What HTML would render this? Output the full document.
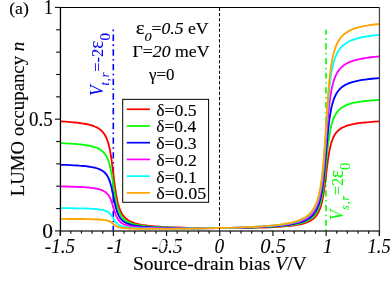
<!DOCTYPE html>
<html><head><meta charset="utf-8"><title>LUMO occupancy</title>
<style>
html,body{margin:0;padding:0;background:#fff;}
body{width:392px;height:288px;overflow:hidden;font-family:"Liberation Serif",serif;}
svg{display:block;}
text{font-family:"Liberation Serif",serif;}
</style></head><body>
<svg width="392" height="288" viewBox="0 0 392 288">
<rect x="0" y="0" width="392" height="288" fill="#ffffff"/>

<defs><clipPath id="pc"><rect x="60.20" y="7.45" width="319.10" height="223.45"/></clipPath></defs>
<line x1="326.0" y1="29.75" x2="326.0" y2="230.90" stroke="#00ff00" stroke-width="1.6" stroke-dasharray="6.2,3.5,1.5,3.5" stroke-dashoffset="1.2"/>
<line x1="113.3" y1="29.6" x2="113.3" y2="230.90" stroke="#0000ff" stroke-width="1.6" stroke-dasharray="6.4,3.35,1.6,3.35" stroke-dashoffset="9.75"/>
<g clip-path="url(#pc)" fill="none" stroke-width="1.85" stroke-linejoin="round">
<path d="M60.2 121.4L65.5 121.7L70.8 122.1L73.0 122.3L75.1 122.5L77.2 122.7L79.3 123.0L81.5 123.3L83.6 123.6L85.7 124.0L87.9 124.4L90.0 124.9L92.1 125.5L93.0 125.8L93.8 126.1L94.7 126.5L95.5 126.8L96.4 127.2L97.2 127.7L98.1 128.1L98.9 128.7L99.8 129.3L100.6 129.9L101.5 130.7L102.3 131.6L103.2 132.5L104.0 133.7L104.9 135.0L105.7 136.5L106.6 138.4L107.4 140.5L107.7 141.5L108.1 142.5L108.4 143.6L108.7 144.7L109.0 146.0L109.3 147.3L109.7 148.8L110.0 150.3L110.3 152.0L110.6 153.8L110.9 155.8L111.3 157.8L111.6 160.0L111.9 162.4L112.2 164.8L112.5 167.3L112.9 169.9L113.2 172.6L113.5 175.2L113.8 177.9L114.1 180.5L114.4 183.0L114.8 185.5L115.1 187.9L115.4 190.1L115.7 192.2L116.0 194.2L116.4 196.0L116.7 197.8L117.0 199.4L117.3 200.9L117.6 202.2L118.0 203.5L118.3 204.7L118.6 205.8L118.9 206.9L119.2 207.8L119.6 208.7L119.9 209.5L120.7 211.5L121.6 213.1L122.4 214.5L123.3 215.7L124.1 216.7L125.0 217.6L125.8 218.4L126.7 219.1L127.5 219.7L128.4 220.3L129.2 220.8L130.1 221.3L130.9 221.7L131.8 222.0L132.6 222.4L133.5 222.7L134.3 223.0L135.2 223.3L137.3 223.8L139.4 224.3L141.6 224.8L143.7 225.1L145.8 225.4L148.0 225.7L150.1 225.9L152.2 226.1L154.3 226.3L156.5 226.5L161.8 226.9L167.1 227.1L172.4 227.4L177.7 227.5L183.1 227.7L188.4 227.8L193.7 227.9L199.0 227.9L204.3 228.0L209.6 228.0L215.0 228.1L220.3 228.1L225.6 228.0L230.9 228.0L236.2 228.0L241.6 227.9L246.9 227.9L252.2 227.8L257.5 227.6L262.8 227.5L268.1 227.3L273.5 227.1L278.8 226.8L284.1 226.4L286.2 226.2L288.4 226.0L290.5 225.8L292.6 225.6L294.7 225.3L296.9 224.9L299.0 224.6L301.1 224.1L303.2 223.6L305.4 222.9L306.2 222.6L307.1 222.3L307.9 222.0L308.8 221.6L309.6 221.1L310.5 220.7L311.3 220.2L312.2 219.6L313.0 219.0L313.9 218.2L314.7 217.4L315.6 216.5L316.4 215.4L317.3 214.2L318.1 212.7L319.0 211.0L319.8 209.0L320.2 208.1L320.5 207.2L320.8 206.2L321.1 205.1L321.4 203.9L321.8 202.7L322.1 201.3L322.4 199.9L322.7 198.3L323.0 196.6L323.4 194.8L323.7 192.9L324.0 190.8L324.3 188.6L324.6 186.3L324.9 183.9L325.3 181.3L325.6 178.7L325.9 176.1L326.2 173.4L326.5 170.8L326.9 168.2L327.2 165.6L327.5 163.2L327.8 160.8L328.1 158.6L328.5 156.5L328.8 154.5L329.1 152.6L329.4 150.9L329.7 149.3L330.1 147.8L330.4 146.4L330.7 145.1L331.0 143.9L331.3 142.8L331.6 141.8L332.0 140.8L332.3 140.0L332.6 139.1L333.5 137.2L334.3 135.5L335.2 134.1L336.0 132.9L336.9 131.9L337.7 131.0L338.6 130.2L339.4 129.5L340.3 128.9L341.1 128.3L342.0 127.8L342.8 127.4L343.7 127.0L344.5 126.6L345.4 126.3L346.2 125.9L347.1 125.7L347.9 125.4L350.0 124.8L352.2 124.3L354.3 123.9L356.4 123.5L358.6 123.2L360.7 122.9L362.8 122.7L364.9 122.5L367.1 122.3L369.2 122.1L374.5 121.7L379.3 121.4" stroke="#ff0000"/>
<path d="M60.2 143.1L65.5 143.3L70.8 143.6L73.0 143.8L75.1 143.9L77.2 144.1L79.3 144.3L81.5 144.5L83.6 144.8L85.7 145.1L87.9 145.5L90.0 145.9L92.1 146.4L93.0 146.6L93.8 146.8L94.7 147.1L95.5 147.4L96.4 147.7L97.2 148.0L98.1 148.4L98.9 148.9L99.8 149.3L100.6 149.9L101.5 150.5L102.3 151.2L103.2 151.9L104.0 152.8L104.9 153.9L105.7 155.1L106.6 156.6L107.4 158.3L107.7 159.1L108.1 159.9L108.4 160.7L108.7 161.7L109.0 162.7L109.3 163.8L109.7 164.9L110.0 166.2L110.3 167.5L110.6 169.0L110.9 170.5L111.3 172.2L111.6 173.9L111.9 175.8L112.2 177.7L112.5 179.7L112.9 181.8L113.2 183.9L113.5 186.1L113.8 188.2L114.1 190.3L114.4 192.3L114.8 194.3L115.1 196.2L115.4 198.0L115.7 199.7L116.0 201.2L116.4 202.7L116.7 204.1L117.0 205.4L117.3 206.6L117.6 207.7L118.0 208.7L118.3 209.7L118.6 210.5L118.9 211.4L119.2 212.1L119.6 212.8L119.9 213.5L120.7 215.1L121.6 216.4L122.4 217.5L123.3 218.4L124.1 219.3L125.0 220.0L125.8 220.6L126.7 221.2L127.5 221.7L128.4 222.1L129.2 222.5L130.1 222.9L130.9 223.2L131.8 223.5L132.6 223.8L133.5 224.0L134.3 224.3L135.2 224.5L137.3 224.9L139.4 225.3L141.6 225.7L143.7 225.9L145.8 226.2L148.0 226.4L150.1 226.6L152.2 226.8L154.3 226.9L156.5 227.0L161.8 227.3L167.1 227.5L172.4 227.7L177.7 227.8L183.1 227.9L188.4 228.0L193.7 228.0L199.0 228.1L204.3 228.1L209.6 228.1L215.0 228.1L220.3 228.1L225.6 228.0L230.9 228.0L236.2 227.9L241.6 227.8L246.9 227.7L252.2 227.6L257.5 227.4L262.8 227.2L268.1 227.0L273.5 226.7L278.8 226.3L284.1 225.9L286.2 225.7L288.4 225.4L290.5 225.1L292.6 224.8L294.7 224.5L296.9 224.1L299.0 223.6L301.1 223.1L303.2 222.4L305.4 221.6L306.2 221.3L307.1 220.9L307.9 220.5L308.8 220.0L309.6 219.5L310.5 218.9L311.3 218.3L312.2 217.6L313.0 216.9L313.9 216.0L314.7 215.0L315.6 213.9L316.4 212.6L317.3 211.1L318.1 209.4L319.0 207.3L319.8 204.9L320.2 203.8L320.5 202.7L320.8 201.5L321.1 200.2L321.4 198.8L321.8 197.3L322.1 195.7L322.4 194.0L322.7 192.1L323.0 190.1L323.4 187.9L323.7 185.6L324.0 183.1L324.3 180.4L324.6 177.7L324.9 174.7L325.3 171.7L325.6 168.6L325.9 165.4L326.2 162.2L326.5 159.0L326.9 155.9L327.2 152.8L327.5 149.9L327.8 147.1L328.1 144.4L328.5 141.8L328.8 139.5L329.1 137.2L329.4 135.2L329.7 133.2L330.1 131.5L330.4 129.8L330.7 128.2L331.0 126.8L331.3 125.5L331.6 124.3L332.0 123.1L332.3 122.0L332.6 121.0L333.5 118.7L334.3 116.7L335.2 115.1L336.0 113.6L336.9 112.4L337.7 111.3L338.6 110.4L339.4 109.5L340.3 108.8L341.1 108.1L342.0 107.5L342.8 106.9L343.7 106.5L344.5 106.0L345.4 105.6L346.2 105.2L347.1 104.9L347.9 104.5L350.0 103.8L352.2 103.2L354.3 102.7L356.4 102.3L358.6 101.9L360.7 101.6L362.8 101.3L364.9 101.0L367.1 100.8L369.2 100.6L374.5 100.1L379.3 99.8" stroke="#00ff00"/>
<path d="M60.2 164.8L65.5 164.9L70.8 165.2L73.0 165.3L75.1 165.4L77.2 165.5L79.3 165.7L81.5 165.8L83.6 166.0L85.7 166.2L87.9 166.5L90.0 166.8L92.1 167.2L93.0 167.3L93.8 167.5L94.7 167.7L95.5 167.9L96.4 168.2L97.2 168.4L98.1 168.7L98.9 169.0L99.8 169.4L100.6 169.8L101.5 170.2L102.3 170.8L103.2 171.3L104.0 172.0L104.9 172.8L105.7 173.7L106.6 174.8L107.4 176.1L107.7 176.7L108.1 177.3L108.4 177.9L108.7 178.6L109.0 179.4L109.3 180.2L109.7 181.1L110.0 182.0L110.3 183.0L110.6 184.1L110.9 185.3L111.3 186.5L111.6 187.8L111.9 189.2L112.2 190.7L112.5 192.2L112.9 193.7L113.2 195.3L113.5 196.9L113.8 198.5L114.1 200.1L114.4 201.6L114.8 203.1L115.1 204.5L115.4 205.8L115.7 207.1L116.0 208.3L116.4 209.4L116.7 210.4L117.0 211.4L117.3 212.3L117.6 213.1L118.0 213.9L118.3 214.6L118.6 215.3L118.9 215.9L119.2 216.5L119.6 217.0L119.9 217.5L120.7 218.7L121.6 219.6L122.4 220.5L123.3 221.2L124.1 221.8L125.0 222.3L125.8 222.8L126.7 223.2L127.5 223.6L128.4 223.9L129.2 224.2L130.1 224.5L130.9 224.7L131.8 225.0L132.6 225.2L133.5 225.4L134.3 225.5L135.2 225.7L137.3 226.0L139.4 226.3L141.6 226.6L143.7 226.8L145.8 226.9L148.0 227.1L150.1 227.2L152.2 227.4L154.3 227.5L156.5 227.6L161.8 227.7L167.1 227.9L172.4 228.0L177.7 228.1L183.1 228.1L188.4 228.2L193.7 228.2L199.0 228.2L204.3 228.2L209.6 228.1L215.0 228.1L220.3 228.1L225.6 228.0L230.9 227.9L236.2 227.8L241.6 227.7L246.9 227.5L252.2 227.4L257.5 227.2L262.8 227.0L268.1 226.7L273.5 226.3L278.8 225.9L284.1 225.3L286.2 225.1L288.4 224.8L290.5 224.5L292.6 224.1L294.7 223.7L296.9 223.2L299.0 222.7L301.1 222.0L303.2 221.3L305.4 220.4L306.2 219.9L307.1 219.5L307.9 219.0L308.8 218.5L309.6 217.9L310.5 217.2L311.3 216.5L312.2 215.7L313.0 214.8L313.9 213.8L314.7 212.6L315.6 211.3L316.4 209.8L317.3 208.1L318.1 206.1L319.0 203.7L319.8 200.8L320.2 199.6L320.5 198.3L320.8 196.9L321.1 195.4L321.4 193.7L321.8 192.0L322.1 190.1L322.4 188.0L322.7 185.9L323.0 183.5L323.4 181.0L323.7 178.2L324.0 175.3L324.3 172.3L324.6 169.0L324.9 165.6L325.3 162.1L325.6 158.5L325.9 154.8L326.2 151.0L326.5 147.3L326.9 143.6L327.2 140.1L327.5 136.6L327.8 133.3L328.1 130.2L328.5 127.2L328.8 124.5L329.1 121.9L329.4 119.4L329.7 117.2L330.1 115.1L330.4 113.2L330.7 111.4L331.0 109.7L331.3 108.2L331.6 106.7L332.0 105.4L332.3 104.1L332.6 103.0L333.5 100.2L334.3 97.9L335.2 96.0L336.0 94.3L336.9 92.9L337.7 91.6L338.6 90.5L339.4 89.5L340.3 88.6L341.1 87.8L342.0 87.1L342.8 86.5L343.7 85.9L344.5 85.4L345.4 84.9L346.2 84.5L347.1 84.1L347.9 83.7L350.0 82.9L352.2 82.2L354.3 81.6L356.4 81.1L358.6 80.6L360.7 80.2L362.8 79.9L364.9 79.6L367.1 79.3L369.2 79.0L374.5 78.5L379.3 78.1" stroke="#0000ff"/>
<path d="M60.2 186.4L65.5 186.5L70.8 186.7L73.0 186.7L75.1 186.8L77.2 186.9L79.3 187.0L81.5 187.1L83.6 187.2L85.7 187.4L87.9 187.5L90.0 187.7L92.1 188.0L93.0 188.1L93.8 188.2L94.7 188.3L95.5 188.5L96.4 188.6L97.2 188.8L98.1 189.0L98.9 189.2L99.8 189.4L100.6 189.7L101.5 190.0L102.3 190.4L103.2 190.7L104.0 191.2L104.9 191.7L105.7 192.3L106.6 193.1L107.4 193.9L107.7 194.3L108.1 194.7L108.4 195.1L108.7 195.6L109.0 196.1L109.3 196.6L109.7 197.2L110.0 197.8L110.3 198.5L110.6 199.2L110.9 200.0L111.3 200.8L111.6 201.7L111.9 202.6L112.2 203.6L112.5 204.6L112.9 205.7L113.2 206.7L113.5 207.8L113.8 208.8L114.1 209.9L114.4 210.9L114.8 211.9L115.1 212.8L115.4 213.7L115.7 214.6L116.0 215.3L116.4 216.1L116.7 216.8L117.0 217.4L117.3 218.0L117.6 218.6L118.0 219.1L118.3 219.6L118.6 220.0L118.9 220.4L119.2 220.8L119.6 221.1L119.9 221.5L120.7 222.2L121.6 222.9L122.4 223.5L123.3 223.9L124.1 224.3L125.0 224.7L125.8 225.0L126.7 225.3L127.5 225.5L128.4 225.7L129.2 225.9L130.1 226.1L130.9 226.3L131.8 226.4L132.6 226.6L133.5 226.7L134.3 226.8L135.2 226.9L137.3 227.1L139.4 227.3L141.6 227.5L143.7 227.6L145.8 227.7L148.0 227.8L150.1 227.9L152.2 228.0L154.3 228.0L156.5 228.1L161.8 228.2L167.1 228.3L172.4 228.3L177.7 228.3L183.1 228.3L188.4 228.3L193.7 228.3L199.0 228.3L204.3 228.2L209.6 228.2L215.0 228.1L220.3 228.0L225.6 228.0L230.9 227.8L236.2 227.7L241.6 227.6L246.9 227.4L252.2 227.2L257.5 227.0L262.8 226.7L268.1 226.3L273.5 225.9L278.8 225.4L284.1 224.8L286.2 224.5L288.4 224.2L290.5 223.8L292.6 223.4L294.7 222.9L296.9 222.4L299.0 221.7L301.1 221.0L303.2 220.1L305.4 219.1L306.2 218.6L307.1 218.1L307.9 217.5L308.8 216.9L309.6 216.2L310.5 215.5L311.3 214.7L312.2 213.7L313.0 212.7L313.9 211.6L314.7 210.2L315.6 208.8L316.4 207.0L317.3 205.0L318.1 202.7L319.0 200.0L319.8 196.7L320.2 195.3L320.5 193.8L320.8 192.2L321.1 190.5L321.4 188.6L321.8 186.6L322.1 184.5L322.4 182.1L322.7 179.6L323.0 176.9L323.4 174.0L323.7 170.9L324.0 167.6L324.3 164.1L324.6 160.4L324.9 156.5L325.3 152.5L325.6 148.3L325.9 144.1L326.2 139.8L326.5 135.6L326.9 131.4L327.2 127.3L327.5 123.4L327.8 119.6L328.1 116.0L328.5 112.6L328.8 109.5L329.1 106.5L329.4 103.7L329.7 101.2L330.1 98.8L330.4 96.6L330.7 94.5L331.0 92.6L331.3 90.8L331.6 89.2L332.0 87.6L332.3 86.2L332.6 84.9L333.5 81.8L334.3 79.1L335.2 76.9L336.0 75.0L336.9 73.3L337.7 71.9L338.6 70.6L339.4 69.5L340.3 68.5L341.1 67.6L342.0 66.8L342.8 66.1L343.7 65.4L344.5 64.8L345.4 64.3L346.2 63.7L347.1 63.3L347.9 62.8L350.0 61.9L352.2 61.1L354.3 60.4L356.4 59.8L358.6 59.3L360.7 58.9L362.8 58.5L364.9 58.1L367.1 57.8L369.2 57.5L374.5 56.9L379.3 56.5" stroke="#ff00ff"/>
<path d="M60.2 208.1L65.5 208.1L70.8 208.2L73.0 208.2L75.1 208.3L77.2 208.3L79.3 208.3L81.5 208.4L83.6 208.4L85.7 208.5L87.9 208.6L90.0 208.7L92.1 208.8L93.0 208.8L93.8 208.9L94.7 209.0L95.5 209.0L96.4 209.1L97.2 209.2L98.1 209.3L98.9 209.4L99.8 209.5L100.6 209.6L101.5 209.8L102.3 209.9L103.2 210.1L104.0 210.4L104.9 210.6L105.7 210.9L106.6 211.3L107.4 211.7L107.7 211.9L108.1 212.1L108.4 212.3L108.7 212.6L109.0 212.8L109.3 213.1L109.7 213.4L110.0 213.7L110.3 214.0L110.6 214.4L110.9 214.8L111.3 215.2L111.6 215.6L111.9 216.1L112.2 216.5L112.5 217.0L112.9 217.6L113.2 218.1L113.5 218.6L113.8 219.2L114.1 219.7L114.4 220.2L114.8 220.7L115.1 221.1L115.4 221.6L115.7 222.0L116.0 222.4L116.4 222.8L116.7 223.1L117.0 223.4L117.3 223.7L117.6 224.0L118.0 224.3L118.3 224.5L118.6 224.7L118.9 224.9L119.2 225.1L119.6 225.3L119.9 225.5L120.7 225.8L121.6 226.2L122.4 226.4L123.3 226.7L124.1 226.9L125.0 227.0L125.8 227.2L126.7 227.3L127.5 227.5L128.4 227.6L129.2 227.7L130.1 227.7L130.9 227.8L131.8 227.9L132.6 227.9L133.5 228.0L134.3 228.1L135.2 228.1L137.3 228.2L139.4 228.3L141.6 228.4L143.7 228.4L145.8 228.5L148.0 228.5L150.1 228.5L152.2 228.6L154.3 228.6L156.5 228.6L161.8 228.6L167.1 228.6L172.4 228.6L177.7 228.6L183.1 228.6L188.4 228.5L193.7 228.5L199.0 228.4L204.3 228.3L209.6 228.2L215.0 228.2L220.3 228.0L225.6 227.9L230.9 227.8L236.2 227.6L241.6 227.4L246.9 227.2L252.2 227.0L257.5 226.7L262.8 226.4L268.1 226.0L273.5 225.5L278.8 225.0L284.1 224.3L286.2 223.9L288.4 223.5L290.5 223.1L292.6 222.6L294.7 222.1L296.9 221.5L299.0 220.8L301.1 219.9L303.2 219.0L305.4 217.8L306.2 217.3L307.1 216.7L307.9 216.0L308.8 215.3L309.6 214.6L310.5 213.7L311.3 212.8L312.2 211.8L313.0 210.6L313.9 209.3L314.7 207.8L315.6 206.2L316.4 204.2L317.3 202.0L318.1 199.4L319.0 196.3L319.8 192.6L320.2 191.0L320.5 189.4L320.8 187.6L321.1 185.6L321.4 183.5L321.8 181.3L322.1 178.8L322.4 176.2L322.7 173.4L323.0 170.4L323.4 167.1L323.7 163.6L324.0 159.9L324.3 155.9L324.6 151.8L324.9 147.4L325.3 142.8L325.6 138.2L325.9 133.4L326.2 128.6L326.5 123.8L326.9 119.1L327.2 114.5L327.5 110.1L327.8 105.8L328.1 101.8L328.5 98.0L328.8 94.4L329.1 91.1L329.4 88.0L329.7 85.1L330.1 82.4L330.4 79.9L330.7 77.6L331.0 75.5L331.3 73.5L331.6 71.6L332.0 69.9L332.3 68.3L332.6 66.8L333.5 63.3L334.3 60.3L335.2 57.8L336.0 55.7L336.9 53.8L337.7 52.2L338.6 50.7L339.4 49.5L340.3 48.4L341.1 47.4L342.0 46.5L342.8 45.6L343.7 44.9L344.5 44.2L345.4 43.6L346.2 43.0L347.1 42.5L347.9 42.0L350.0 40.9L352.2 40.0L354.3 39.3L356.4 38.6L358.6 38.0L360.7 37.5L362.8 37.1L364.9 36.7L367.1 36.3L369.2 36.0L374.5 35.3L379.3 34.8" stroke="#00ffff"/>
<path d="M60.2 218.9L65.5 218.9L70.8 219.0L73.0 219.0L75.1 219.0L77.2 219.0L79.3 219.0L81.5 219.0L83.6 219.0L85.7 219.1L87.9 219.1L90.0 219.1L92.1 219.2L93.0 219.2L93.8 219.3L94.7 219.3L95.5 219.3L96.4 219.3L97.2 219.4L98.1 219.4L98.9 219.5L99.8 219.5L100.6 219.6L101.5 219.7L102.3 219.7L103.2 219.8L104.0 220.0L104.9 220.1L105.7 220.2L106.6 220.4L107.4 220.6L107.7 220.7L108.1 220.8L108.4 220.9L108.7 221.0L109.0 221.2L109.3 221.3L109.7 221.4L110.0 221.6L110.3 221.8L110.6 221.9L110.9 222.1L111.3 222.3L111.6 222.5L111.9 222.8L112.2 223.0L112.5 223.3L112.9 223.5L113.2 223.8L113.5 224.1L113.8 224.3L114.1 224.6L114.4 224.8L114.8 225.1L115.1 225.3L115.4 225.5L115.7 225.7L116.0 225.9L116.4 226.1L116.7 226.3L117.0 226.4L117.3 226.6L117.6 226.7L118.0 226.9L118.3 227.0L118.6 227.1L118.9 227.2L119.2 227.3L119.6 227.4L119.9 227.4L120.7 227.6L121.6 227.8L122.4 227.9L123.3 228.0L124.1 228.1L125.0 228.2L125.8 228.3L126.7 228.4L127.5 228.4L128.4 228.5L129.2 228.5L130.1 228.5L130.9 228.6L131.8 228.6L132.6 228.6L133.5 228.7L134.3 228.7L135.2 228.7L137.3 228.8L139.4 228.8L141.6 228.8L143.7 228.8L145.8 228.8L148.0 228.9L150.1 228.9L152.2 228.9L154.3 228.9L156.5 228.9L161.8 228.8L167.1 228.8L172.4 228.8L177.7 228.7L183.1 228.7L188.4 228.6L193.7 228.5L199.0 228.5L204.3 228.4L209.6 228.3L215.0 228.2L220.3 228.0L225.6 227.9L230.9 227.8L236.2 227.6L241.6 227.4L246.9 227.2L252.2 226.9L257.5 226.6L262.8 226.3L268.1 225.9L273.5 225.4L278.8 224.8L284.1 224.0L286.2 223.6L288.4 223.2L290.5 222.8L292.6 222.3L294.7 221.7L296.9 221.1L299.0 220.3L301.1 219.4L303.2 218.4L305.4 217.2L306.2 216.6L307.1 216.0L307.9 215.3L308.8 214.6L309.6 213.8L310.5 212.9L311.3 211.9L312.2 210.8L313.0 209.6L313.9 208.2L314.7 206.7L315.6 204.9L316.4 202.8L317.3 200.5L318.1 197.7L319.0 194.5L319.8 190.6L320.2 188.9L320.5 187.1L320.8 185.2L321.1 183.2L321.4 181.0L321.8 178.6L322.1 176.0L322.4 173.3L322.7 170.3L323.0 167.1L323.4 163.6L323.7 159.9L324.0 156.0L324.3 151.8L324.6 147.4L324.9 142.8L325.3 138.0L325.6 133.1L325.9 128.1L326.2 123.0L326.5 118.0L326.9 113.0L327.2 108.1L327.5 103.5L327.8 99.0L328.1 94.7L328.5 90.7L328.8 86.9L329.1 83.4L329.4 80.1L329.7 77.1L330.1 74.3L330.4 71.6L330.7 69.2L331.0 66.9L331.3 64.8L331.6 62.9L332.0 61.0L332.3 59.3L332.6 57.8L333.5 54.1L334.3 50.9L335.2 48.3L336.0 46.0L336.9 44.0L337.7 42.3L338.6 40.8L339.4 39.5L340.3 38.3L341.1 37.2L342.0 36.3L342.8 35.4L343.7 34.6L344.5 33.9L345.4 33.3L346.2 32.7L347.1 32.1L347.9 31.6L350.0 30.4L352.2 29.5L354.3 28.7L356.4 28.0L358.6 27.4L360.7 26.8L362.8 26.4L364.9 25.9L367.1 25.6L369.2 25.2L374.5 24.5L379.3 24.0" stroke="#ffa500"/>
</g>
<line x1="219.5" y1="7.7" x2="219.5" y2="230.90" stroke="#000" stroke-width="1.0" stroke-dasharray="3.2,2.05"/>
<rect x="122.70" y="99.35" width="85.90" height="102.95" fill="#fff" stroke="#000" stroke-width="1.0"/>
<line x1="126.75" y1="109.25" x2="150" y2="109.25" stroke="#ff0000" stroke-width="1.7"/>
<line x1="126.75" y1="125.97" x2="150" y2="125.97" stroke="#00ff00" stroke-width="1.7"/>
<line x1="126.75" y1="142.69" x2="150" y2="142.69" stroke="#0000ff" stroke-width="1.7"/>
<line x1="126.75" y1="159.41" x2="150" y2="159.41" stroke="#ff00ff" stroke-width="1.7"/>
<line x1="126.75" y1="176.13" x2="150" y2="176.13" stroke="#00ffff" stroke-width="1.7"/>
<line x1="126.75" y1="192.85" x2="150" y2="192.85" stroke="#ffa500" stroke-width="1.7"/>
<line x1="60.20" y1="7.45" x2="379.70" y2="7.45" stroke="#000" stroke-width="1.1"/>
<line x1="379.45" y1="6.95" x2="379.45" y2="235.70" stroke="#444" stroke-width="1.25"/>
<line x1="60.20" y1="230.95" x2="380.10" y2="230.95" stroke="#3a3a3a" stroke-width="1.35"/>
<line x1="60.45" y1="6.95" x2="60.45" y2="235.70" stroke="#000" stroke-width="1.3"/>
<g stroke="#111" stroke-width="1.15">
<line x1="60.20" y1="230.90" x2="60.20" y2="235.90"/>
<line x1="70.84" y1="230.90" x2="70.84" y2="233.70"/>
<line x1="81.47" y1="230.90" x2="81.47" y2="233.70"/>
<line x1="92.11" y1="230.90" x2="92.11" y2="233.70"/>
<line x1="102.75" y1="230.90" x2="102.75" y2="233.70"/>
<line x1="113.38" y1="230.90" x2="113.38" y2="235.90"/>
<line x1="124.02" y1="230.90" x2="124.02" y2="233.70"/>
<line x1="134.66" y1="230.90" x2="134.66" y2="233.70"/>
<line x1="145.29" y1="230.90" x2="145.29" y2="233.70"/>
<line x1="155.93" y1="230.90" x2="155.93" y2="233.70"/>
<line x1="166.57" y1="230.90" x2="166.57" y2="235.90"/>
<line x1="177.20" y1="230.90" x2="177.20" y2="233.70"/>
<line x1="187.84" y1="230.90" x2="187.84" y2="233.70"/>
<line x1="198.48" y1="230.90" x2="198.48" y2="233.70"/>
<line x1="209.11" y1="230.90" x2="209.11" y2="233.70"/>
<line x1="219.75" y1="230.90" x2="219.75" y2="235.90"/>
<line x1="230.39" y1="230.90" x2="230.39" y2="233.70"/>
<line x1="241.02" y1="230.90" x2="241.02" y2="233.70"/>
<line x1="251.66" y1="230.90" x2="251.66" y2="233.70"/>
<line x1="262.30" y1="230.90" x2="262.30" y2="233.70"/>
<line x1="272.93" y1="230.90" x2="272.93" y2="235.90"/>
<line x1="283.57" y1="230.90" x2="283.57" y2="233.70"/>
<line x1="294.21" y1="230.90" x2="294.21" y2="233.70"/>
<line x1="304.84" y1="230.90" x2="304.84" y2="233.70"/>
<line x1="315.48" y1="230.90" x2="315.48" y2="233.70"/>
<line x1="326.12" y1="230.90" x2="326.12" y2="235.90"/>
<line x1="336.75" y1="230.90" x2="336.75" y2="233.70"/>
<line x1="347.39" y1="230.90" x2="347.39" y2="233.70"/>
<line x1="358.03" y1="230.90" x2="358.03" y2="233.70"/>
<line x1="368.66" y1="230.90" x2="368.66" y2="233.70"/>
<line x1="379.30" y1="230.90" x2="379.30" y2="235.90"/>
<line x1="60.45" y1="230.90" x2="54.95" y2="230.90"/>
<line x1="60.45" y1="208.56" x2="56.15" y2="208.56"/>
<line x1="60.45" y1="186.21" x2="56.15" y2="186.21"/>
<line x1="60.45" y1="163.87" x2="56.15" y2="163.87"/>
<line x1="60.45" y1="141.52" x2="56.15" y2="141.52"/>
<line x1="60.45" y1="119.17" x2="54.95" y2="119.17"/>
<line x1="60.45" y1="96.83" x2="56.15" y2="96.83"/>
<line x1="60.45" y1="74.48" x2="56.15" y2="74.48"/>
<line x1="60.45" y1="52.14" x2="56.15" y2="52.14"/>
<line x1="60.45" y1="29.79" x2="56.15" y2="29.79"/>
<line x1="60.45" y1="7.45" x2="54.95" y2="7.45"/>
</g>
<g opacity="0.999">
<text id="a" transform="translate(9.23,13.70) scale(1.0226,1)" font-size="17.30" fill="#000" stroke="#000" stroke-width="0.15">(a)</text>
<text id="y1" transform="translate(44.11,14.30) scale(0.8680,1)" font-size="20.50" fill="#000" stroke="#000" stroke-width="0.15">1</text>
<text id="y05" transform="translate(28.95,125.50) scale(0.9258,1)" font-size="20.50" fill="#000" stroke="#000" stroke-width="0.15">0.5</text>
<text id="y0" transform="translate(42.22,237.80) scale(1.0461,1)" font-size="20.50" fill="#000" stroke="#000" stroke-width="0.15">0</text>
<text id="xm15" transform="translate(44.80,252.80) scale(0.9355,1)" font-size="20.50" font-style="italic" fill="#000" stroke="#000" stroke-width="0.06">-1.5</text>
<text id="xm1" transform="translate(106.78,252.80) scale(0.9649,1)" font-size="20.50" font-style="italic" fill="#000" stroke="#000" stroke-width="0.06">-1</text>
<text id="xm05" transform="translate(151.53,252.80) scale(0.9613,1)" font-size="20.50" font-style="italic" fill="#000" stroke="#000" stroke-width="0.06">-0.5</text>
<text id="x0" transform="translate(214.54,252.80) scale(0.9459,1)" font-size="20.50" font-style="italic" fill="#000" stroke="#000" stroke-width="0.06">0</text>
<text id="x05" transform="translate(260.25,252.80) scale(1.0000,1)" font-size="20.50" font-style="italic" fill="#000" stroke="#000" stroke-width="0.06">0.5</text>
<text id="x1" transform="translate(322.71,252.80) scale(0.9868,1)" font-size="20.50" font-style="italic" fill="#000" stroke="#000" stroke-width="0.06">1</text>
<text id="x15" transform="translate(367.57,252.80) scale(0.9051,1)" font-size="20.50" font-style="italic" fill="#000" stroke="#000" stroke-width="0.06">1.5</text>
<text id="xl" transform="translate(132.96,269.50) scale(1.0302,1)" font-size="19.00" fill="#000" stroke="#000" stroke-width="0.15">Source-drain bias <tspan font-style="italic">V</tspan>/V</text>
<text id="yl" transform="translate(23.90,196.19) rotate(-90) scale(0.9786,1)" font-size="19.20" fill="#000" stroke="#000" stroke-width="0.15">LUMO occupancy <tspan font-style="italic">n</tspan></text>
<text id="an1" transform="translate(135.71,33.50) scale(1.0581,1)" font-size="16.70" fill="#000" stroke="#000" stroke-width="0.15"><tspan font-size="19.5">ε</tspan><tspan font-size="13.5" font-style="italic" dy="7">0</tspan><tspan dy="-7">=</tspan><tspan font-style="italic">0.5</tspan> eV</text>
<text id="an2" transform="translate(132.58,56.65) scale(1.0618,1)" font-size="16.70" fill="#000" stroke="#000" stroke-width="0.15">Γ=<tspan font-style="italic">20</tspan> meV</text>
<text id="an3" transform="translate(148.99,80.00) scale(0.9712,1)" font-size="17.40" fill="#000" stroke="#000" stroke-width="0.15">γ=0</text>
<text id="bl" transform="translate(103.10,95.96) rotate(-90) scale(0.9608,1)" font-size="17.20" fill="#0000ff" stroke="#0000ff" stroke-width="0.06"><tspan font-style="italic" font-size="18">V</tspan><tspan font-size="12.5" letter-spacing="0.9" font-style="italic" dy="6">t,r</tspan><tspan dy="-6">=-2</tspan><tspan font-size="20">ε</tspan><tspan font-size="15.5" dy="7">0</tspan></text>
<text id="gr" transform="translate(343.00,220.15) rotate(-90) scale(0.9431,1)" font-size="17.20" fill="#00ff00" stroke="#00ff00" stroke-width="0.06"><tspan font-style="italic" font-size="18">V</tspan><tspan font-size="12.5" letter-spacing="0.9" font-style="italic" dy="6">s,r</tspan><tspan dy="-6">=2</tspan><tspan font-size="20">ε</tspan><tspan font-size="15.5" dy="7">0</tspan></text>
<text id="lg0" transform="translate(156.25,115.70) scale(1.0000,1)" font-size="17.70" fill="#000" stroke="#000" stroke-width="0.15">δ=0.5</text>
<text id="lg1" transform="translate(156.26,132.42) scale(0.9874,1)" font-size="17.70" fill="#000" stroke="#000" stroke-width="0.15">δ=0.4</text>
<text id="lg2" transform="translate(156.25,149.14) scale(1.0000,1)" font-size="17.70" fill="#000" stroke="#000" stroke-width="0.15">δ=0.3</text>
<text id="lg3" transform="translate(156.25,165.86) scale(1.0064,1)" font-size="17.70" fill="#000" stroke="#000" stroke-width="0.15">δ=0.2</text>
<text id="lg4" transform="translate(156.25,182.58) scale(1.0064,1)" font-size="17.70" fill="#000" stroke="#000" stroke-width="0.15">δ=0.1</text>
<text id="lg5" transform="translate(156.24,199.30) scale(1.0166,1)" font-size="17.70" fill="#000" stroke="#000" stroke-width="0.15">δ=0.05</text>
</g>
<g fill="#fff">
<rect x="158.3" y="239.8" width="5.4" height="9.6" opacity="0.82"/>
<rect x="172.6" y="241.9" width="4.6" height="4.4" opacity="0.8"/>
<rect x="163.7" y="243.0" width="5" height="0.9" opacity="0.7"/>
<rect x="163.7" y="246.3" width="19" height="0.8" opacity="0.6"/>
<rect x="172" y="240.6" width="6" height="1.3" opacity="0.6"/>
</g>
</svg>
</body></html>
